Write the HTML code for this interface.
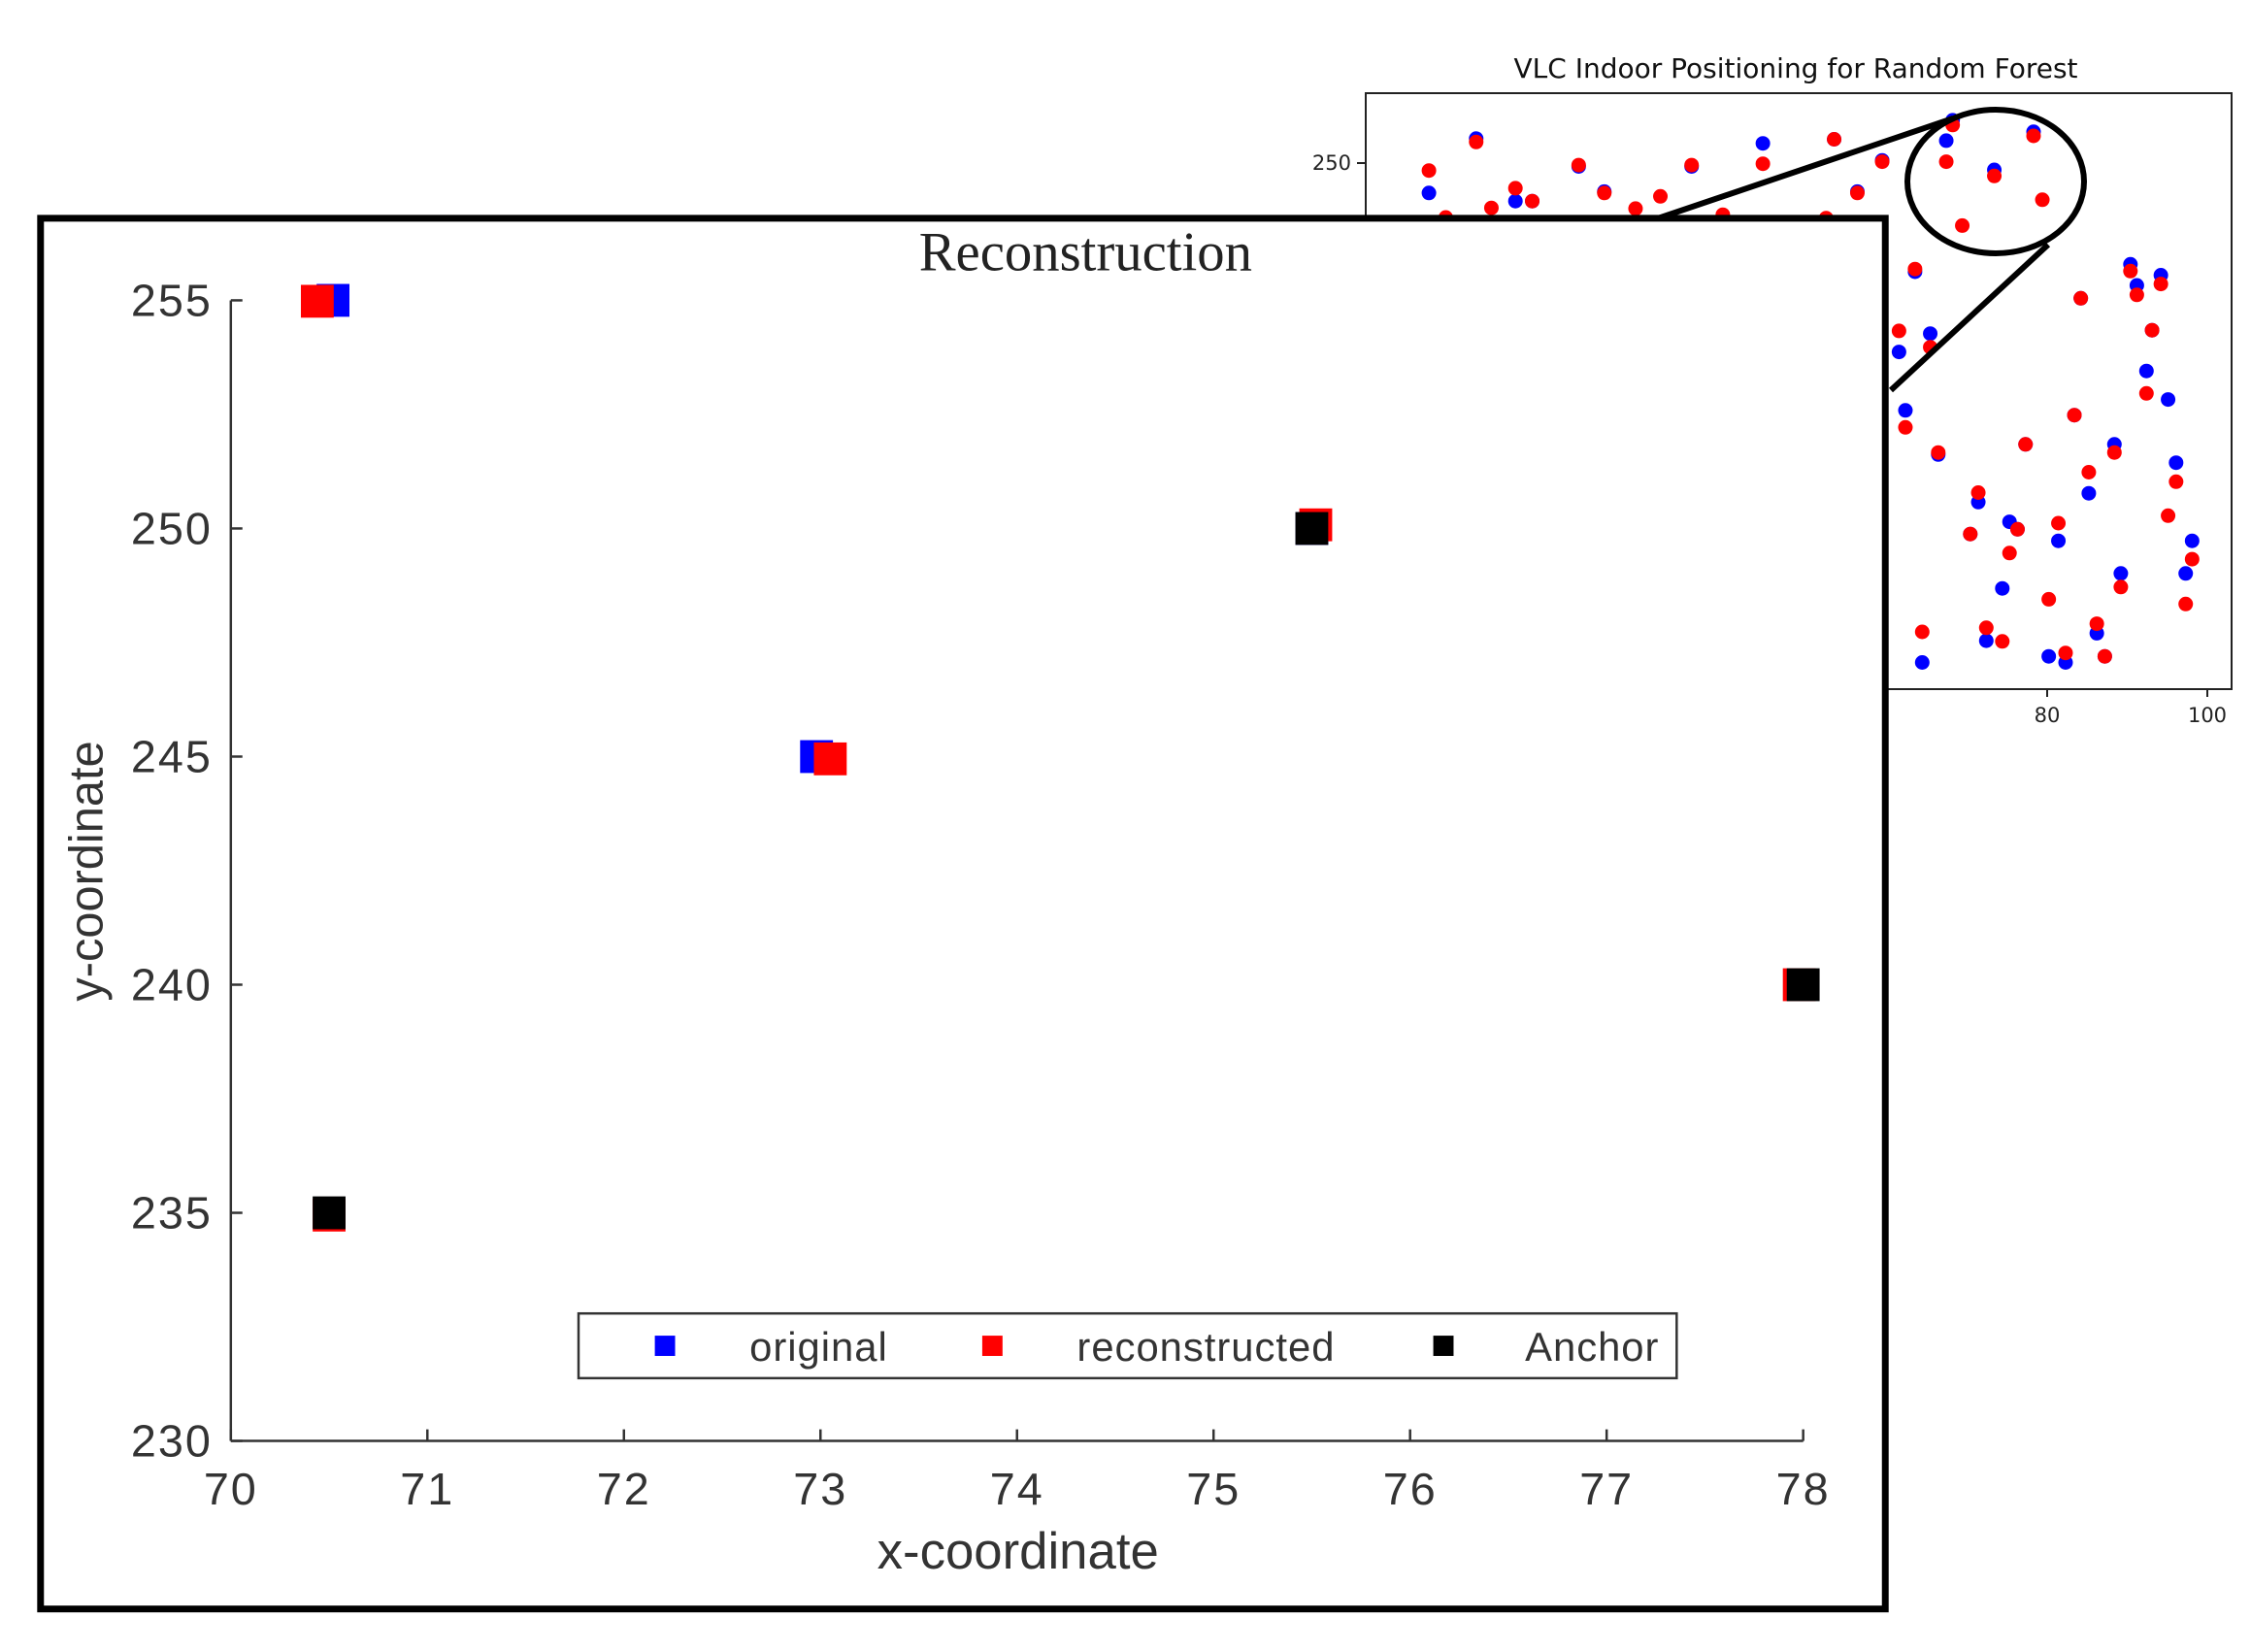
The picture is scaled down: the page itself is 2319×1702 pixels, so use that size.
<!DOCTYPE html>
<html><head><meta charset="utf-8"><style>
html,body{margin:0;padding:0;background:#fff;}
svg{display:block;}
</style></head><body>
<svg id="chart" width="2319" height="1702" viewBox="0 0 2319 1702" xmlns="http://www.w3.org/2000/svg">
<g id="inset">
  <text x="1850" y="80" text-anchor="middle" font-family="DejaVu Sans, Liberation Sans, sans-serif" font-size="28" fill="#111">VLC Indoor Positioning for Random Forest</text>
  <rect x="1407" y="96" width="892" height="614" fill="none" stroke="#222" stroke-width="2"/>
  <g id="insetDots"></g>
  <g id="insetTicks"></g>
</g>
<ellipse cx="2056" cy="187" rx="91" ry="74" fill="none" stroke="#000" stroke-width="6"/>
<line x1="2012" y1="122" x2="1705" y2="226" stroke="#000" stroke-width="6"/>
<line x1="2110" y1="252" x2="1948" y2="402" stroke="#000" stroke-width="6"/>
<g transform="scale(0.995)">
<rect x="42" y="226" width="1910" height="1440" fill="#fff" stroke="#000" stroke-width="7"/>
<g id="main">
  <text x="1124" y="280" text-anchor="middle" font-family="Liberation Serif, serif" font-size="57" fill="#222">Reconstruction</text>
  <line x1="239" y1="311" x2="239" y2="1492" stroke="#333" stroke-width="2.5"/>
  <line x1="239" y1="1492" x2="1867" y2="1492" stroke="#333" stroke-width="2.5"/>
  <g id="ticks"></g>
  <text x="1054" y="1624" text-anchor="middle" font-family="Liberation Sans, sans-serif" font-size="53" fill="#333">x-coordinate</text>
  <text transform="translate(106,902) rotate(-90)" text-anchor="middle" font-family="Liberation Sans, sans-serif" font-size="49" fill="#333">y-coordinate</text>
  <g id="marks"></g>
  <g>
    <rect x="599" y="1360" width="1137" height="67" fill="#fff" stroke="#333" stroke-width="2.5"/>
    <rect x="678" y="1383" width="21" height="21" fill="#0000ff"/>
    <text x="776" y="1409" font-family="Liberation Sans, sans-serif" font-size="42" fill="#333" letter-spacing="1">original</text>
    <rect x="1017" y="1383" width="21" height="21" fill="#ff0000"/>
    <text x="1115" y="1409" font-family="Liberation Sans, sans-serif" font-size="42" fill="#333" letter-spacing="1">reconstructed</text>
    <rect x="1484" y="1383" width="21" height="21" fill="#000"/>
    <text x="1579" y="1409" font-family="Liberation Sans, sans-serif" font-size="42" fill="#333" letter-spacing="1">Anchor</text>
  </g>
</g>
</g>
</svg>
<script>
// main chart data
const xTicks = [70,71,72,73,74,75,76,77,78];
const yTicks = [230,235,240,245,250,255];
const origX = [70.52, 72.98, 75.5];
const origY = [255, 245, 250];
const reconX = [70.44, 73.05, 75.52, 77.98, 70.5];
const reconY = [254.98, 244.95, 250.08, 240.0, 234.95];
const anchorX = [70.5, 75.5, 78.0];
const anchorY = [235, 250, 240];
// inset chart data
const insetXTicks = [80, 100];
const insetYTicks = [250];
const insetBlueX = [2.8,8.7,13.6,15.7,21.5,24.7,35.6,44.5,53.4,59.4,56.3,68.2,67.4,73.4,78.3,63.5,62.3,61.5,65.4,66.4,71.4,70.4,75.3,76.3,74.4,72.4,64.4,80.2,82.3,86.2,87.2,81.4,77.3,83.4,84.2,88.4,89.2,85.2,90.4,91.2,94.2,93.1,92.4,95.1,96.1,98.1,97.3];
const insetBlueY = [245.6,253.6,244.4,244.4,249.5,245.8,249.5,252.9,253.5,250.4,245.8,256.3,253.3,249.0,254.6,234.0,213.6,222.2,224.9,207.1,200.1,195.4,197.2,196.1,187.4,179.7,176.5,177.4,176.5,180.8,177.4,194.4,208.6,212.9,230.1,208.6,189.6,201.4,235.1,232.0,233.5,225.4,219.4,215.2,205.9,194.4,189.6];
const insetRedX = [2.8,8.7,13.6,15.7,10.6,4.9,21.5,24.7,28.6,31.7,35.6,44.5,53.4,59.4,56.3,39.5,52.4,68.2,67.4,73.4,78.3,79.4,69.4,63.5,61.5,65.4,62.3,66.4,71.4,70.4,76.3,75.3,72.4,74.4,64.4,80.2,82.3,86.2,87.2,81.4,77.3,83.4,84.2,88.4,89.2,85.2,90.4,91.2,94.2,93.1,92.4,96.1,95.1,98.1,97.3];
const insetRedY = [248.9,253.1,246.3,244.4,243.4,242.0,249.7,245.6,243.3,245.1,249.7,249.9,253.5,250.2,245.6,242.4,241.9,255.6,250.2,248.1,254.0,244.6,240.8,234.4,225.3,222.9,211.1,207.4,201.5,195.4,196.1,192.6,181.6,179.6,181.0,185.8,177.9,182.2,177.4,197.0,208.6,212.9,230.1,207.4,187.6,204.5,234.1,230.6,232.2,225.4,216.1,203.1,198.1,191.7,185.1];

const NS = 'http://www.w3.org/2000/svg';
function mk(tag, attrs, parent){const e=document.createElementNS(NS,tag);for(const k in attrs)e.setAttribute(k,attrs[k]);parent.appendChild(e);return e;}
const xs = v => 239 + (v-70)*(1867-239)/8;
const ys = v => 1492 - (v-230)*(1492-311)/25;
const ticks = document.getElementById('ticks');
xTicks.forEach(t=>{
  const l=mk('line',{x1:xs(t),x2:xs(t),y1:1492,y2:1480,stroke:'#333','stroke-width':2.5},ticks);
  
  
  const tx=mk('text',{x:xs(t),y:1558,'text-anchor':'middle','font-family':'Liberation Sans, sans-serif','font-size':47,fill:'#333','letter-spacing':2},ticks);
  tx.textContent=t;
  
  
});
yTicks.forEach(t=>{
  const l=mk('line',{x1:239,x2:251,y1:ys(t),y2:ys(t),stroke:'#333','stroke-width':2.5},ticks);
  
  
  const tx=mk('text',{x:220,y:ys(t)+16,'text-anchor':'end','font-family':'Liberation Sans, sans-serif','font-size':47,fill:'#333','letter-spacing':2},ticks);
  tx.textContent=t;
  
  
});
const marks=document.getElementById('marks');
const S=34;
function sq(x,y,c,name){
  const r=mk('rect',{x:xs(x)-S/2,y:ys(y)-S/2,width:S,height:S,fill:c},marks);
  
  
}
origX.forEach((x,i)=>sq(x,origY[i],'#0000ff','original-point'));
reconX.forEach((x,i)=>sq(x,reconY[i],'#ff0000','reconstructed-point'));
anchorX.forEach((x,i)=>sq(x,anchorY[i],'#000000','anchor-point'));
const ixs = v => 2109 + (v-80)*8.25;
const iys = v => 168 - (v-250)*7;
const idots=document.getElementById('insetDots');
insetBlueX.forEach((x,i)=>{
  const c=mk('circle',{cx:ixs(x),cy:iys(insetBlueY[i]),r:7.5,fill:'#0000ff'},idots);
  
  
});
insetRedX.forEach((x,i)=>{
  const c=mk('circle',{cx:ixs(x),cy:iys(insetRedY[i]),r:7.5,fill:'#ff0000'},idots);
  
  
});
const iticks=document.getElementById('insetTicks');
insetXTicks.forEach(t=>{
  const l=mk('line',{x1:ixs(t),x2:ixs(t),y1:710,y2:718,stroke:'#222','stroke-width':2},iticks);
  
  
  const tx=mk('text',{x:ixs(t),y:744,'text-anchor':'middle','font-family':'DejaVu Sans, sans-serif','font-size':21,fill:'#222'},iticks);
  tx.textContent=t;
  
  
});
insetYTicks.forEach(t=>{
  const l=mk('line',{x1:1398,x2:1406,y1:iys(t),y2:iys(t),stroke:'#222','stroke-width':2},iticks);
  
  
  const tx=mk('text',{x:1392,y:iys(t)+7,'text-anchor':'end','font-family':'DejaVu Sans, sans-serif','font-size':21,fill:'#222'},iticks);
  tx.textContent=t;
  
  
});
</script>
</body></html>
